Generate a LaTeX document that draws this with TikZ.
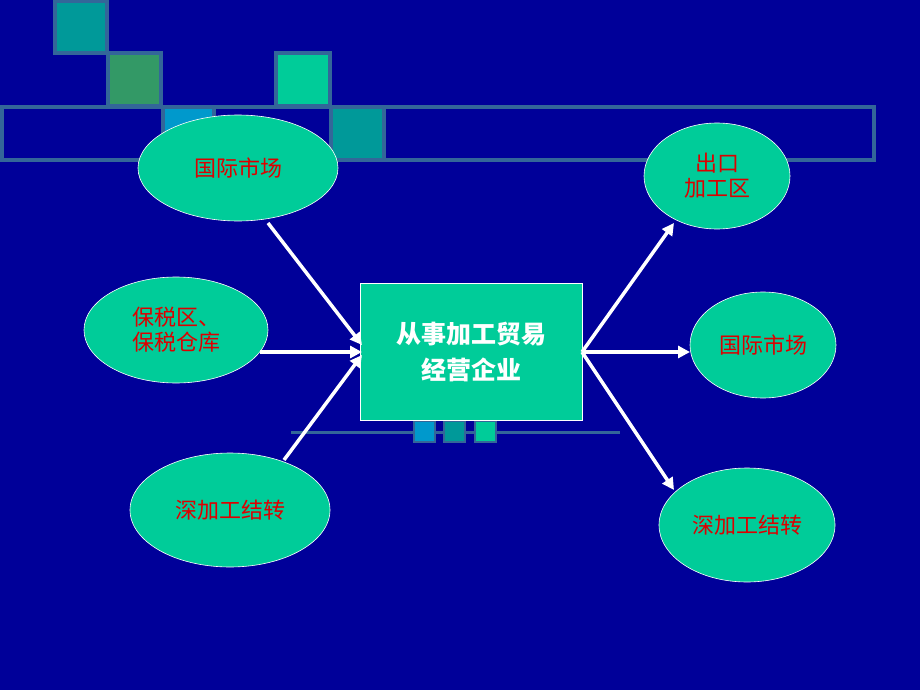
\documentclass[tikz,border=0pt]{standalone}
\usepackage{fontspec}
\newfontfamily\cjk{Noto Sans CJK SC}
\usetikzlibrary{shapes.geometric,arrows.meta}
\definecolor{bg}{HTML}{000099}
\definecolor{frame}{HTML}{336699}
\definecolor{nodegreen}{HTML}{00CC99}
\definecolor{txtred}{HTML}{DD0000}
\tikzset{
 sq/.style={draw=frame,line width=4.5pt},
 ell/.style={ellipse,draw=white,line width=0.6pt,fill=nodegreen,inner sep=0pt,text=txtred,font=\cjk\fontsize{22}{25}\selectfont,align=center},
 arr/.style={draw=white,line width=3.5pt,-{Triangle[length=12pt,width=12pt]}}
}
\begin{document}
\begin{tikzpicture}[x=1pt,y=-1pt]
\fill[bg] (0,0) rectangle (920,690);
\useasboundingbox (0,0) rectangle (920,690);
\draw[frame,line width=4.5pt] (2,107) rectangle (874,160);
\draw[sq,fill={rgb,255:red,0;green,153;blue,153}] (55,1) rectangle (107,53);
\draw[sq,fill={rgb,255:red,51;green,153;blue,102}] (108,53) rectangle (161,106);
\draw[sq,fill={rgb,255:red,0;green,153;blue,204}] (163,107) rectangle (214,160);
\draw[sq,fill=nodegreen] (276,53) rectangle (330,106);
\draw[sq,fill={rgb,255:red,0;green,153;blue,153}] (331,107) rectangle (384,160);
\draw[frame,line width=3pt] (291,432) -- (620,432);
\draw[frame,line width=2pt,fill={rgb,255:red,0;green,153;blue,204}] (414,421) rectangle (435,442);
\draw[frame,line width=2pt,fill={rgb,255:red,0;green,153;blue,153}] (444,421) rectangle (465,442);
\draw[frame,line width=2pt,fill=nodegreen] (475,421) rectangle (496,442);
\node[draw=white,line width=0.6pt,fill=nodegreen,minimum width=222pt,minimum height=137pt,text=white,font=\cjk\bfseries\fontsize{25}{36}\selectfont,align=center] (c) at (471,352) {从事加工贸易\\经营企业};
\node[ell,minimum width=200pt,minimum height=106pt] (l1) at (238,168) {国际市场};
\node[ell,minimum width=184pt,minimum height=106pt] (l2) at (176,330) {保税区、\\保税仓库};
\node[ell,minimum width=200pt,minimum height=114pt] (l3) at (230,510) {深加工结转};
\node[ell,minimum width=146pt,minimum height=106pt] (r1) at (717,176) {出口\\加工区};
\node[ell,minimum width=146pt,minimum height=106pt] (r2) at (763,345) {国际市场};
\node[ell,minimum width=176pt,minimum height=114pt] (r3) at (747,525) {深加工结转};
\coordinate (cl1) at (362,345);
\coordinate (cl2) at (362,352);
\coordinate (cl3) at (362,355);
\coordinate (cr) at (582,352);
\draw[arr] (268,223) -- (cl1);
\draw[arr] (260,352) -- (cl2);
\draw[arr] (284,460) -- (cl3);
\draw[arr] (cr) -- (674,223);
\draw[arr] (cr) -- (690,352);
\draw[arr] (cr) -- (674,490);
\end{tikzpicture}
\end{document}
